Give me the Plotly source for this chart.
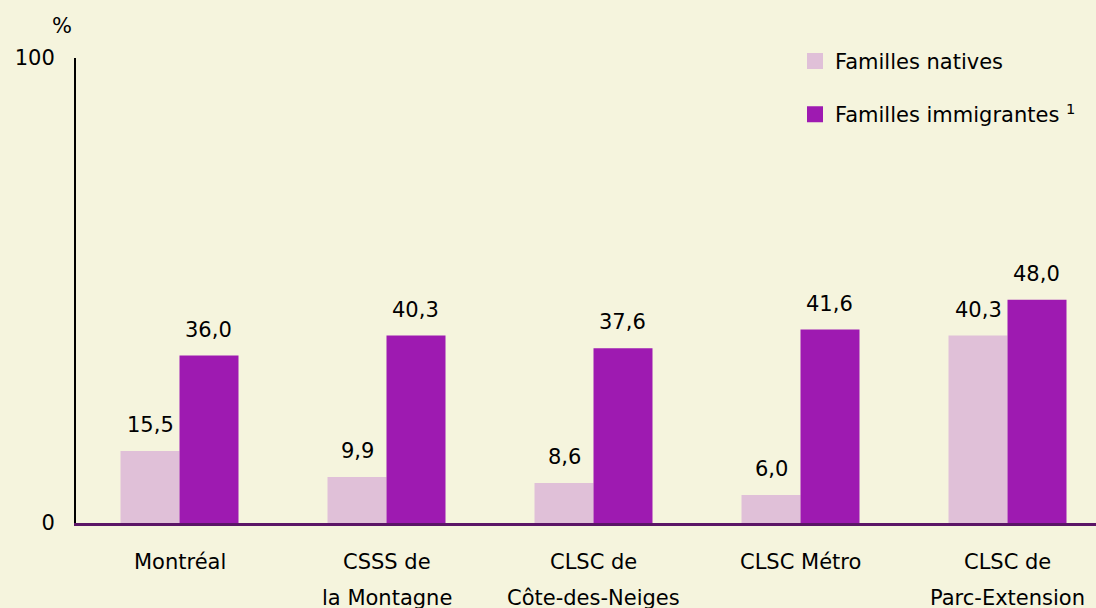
import plotly.graph_objects as go

categories = ["Montréal", "CSSS de la Montagne", "CLSC de Côte-des-Neiges", "CLSC Métro", "CLSC de Parc-Extension"]
label_line1 = ["Montréal", "CSSS de", "CLSC de", "CLSC Métro", "CLSC de"]
label_line2 = ["", "la Montagne", "Côte-des-Neiges", "", "Parc-Extension"]
natives = [15.5, 9.9, 8.6, 6.0, 40.3]
immigrantes = [36.0, 40.3, 37.6, 41.6, 48.0]
series_names = ["Familles natives", "Familles immigrantes <sup>1</sup>"]
y_ticks = [0, 100]

BG = "#F5F4DD"
C_NAT = "#E0C0D8"
C_IMM = "#9E1AB1"
FONT = "DejaVu Sans"
FS = 21

W, H = 1096, 608
ML, MR, MT, MB = 76, 0, 58, 85
BARGAP = 0.43
XRANGE = [-0.5, -0.5 + (W - ML - MR) / 207]
cat_px = (W - ML - MR) / (XRANGE[1] - XRANGE[0])
bar_px = cat_px * (1 - BARGAP) / 2

fig = go.Figure()
for vals, col in [(natives, C_NAT), (immigrantes, C_IMM)]:
    fig.add_trace(go.Bar(
        x=categories, y=vals, marker=dict(color=col, line=dict(width=0)),
        showlegend=False, hoverinfo="skip",
    ))

# legend entries
for col, name, grp in [(C_NAT, series_names[0], "a"), (C_IMM, series_names[1], "b")]:
    fig.add_trace(go.Scatter(
        x=[None], y=[None], mode="markers", name=name, legendgroup=grp,
        marker=dict(symbol="square", size=16, color=col),
    ))

annotations = []
# value labels above each bar
for j, vals in enumerate([natives, immigrantes]):
    for cat, v in zip(categories, vals):
        annotations.append(dict(
            x=cat, y=v, xref="x", yref="y", text=f"{v:.1f}".replace(".", ","), showarrow=False,
            xanchor="center", yanchor="middle", xshift=(j - 0.5) * bar_px, yshift=26,
            font=dict(family=FONT, size=FS, color="black")))
# category labels
for cat, l1, l2 in zip(categories, label_line1, label_line2):
    annotations.append(dict(x=cat, y=0, xref="x", yref="paper", text=l1, showarrow=False,
                            yanchor="middle", yshift=-39, font=dict(family=FONT, size=FS, color="black")))
    if l2:
        annotations.append(dict(x=cat, y=0, xref="x", yref="paper", text=l2, showarrow=False,
                                yanchor="middle", yshift=-75, font=dict(family=FONT, size=FS, color="black")))
annotations.append(dict(x=0, y=1, xref="paper", yref="paper", text="%", showarrow=False,
                        xanchor="right", yanchor="bottom", xshift=-2, yshift=18,
                        font=dict(family=FONT, size=FS, color="black")))

fig.update_layout(
    width=W, height=H,
    margin=dict(l=ML, r=MR, t=MT, b=MB),
    paper_bgcolor=BG, plot_bgcolor=BG,
    separators=", ",
    barmode="group", bargap=BARGAP, bargroupgap=0,
    font=dict(family=FONT, size=FS, color="black"),
    xaxis=dict(type="category", range=XRANGE, showticklabels=False,
               showline=True, linecolor="#5B1566", linewidth=3, showgrid=False, zeroline=False,
               ticks=""),
    yaxis=dict(range=[0, 100], tickvals=y_ticks, showline=True, linecolor="black", linewidth=2,
               showgrid=False, zeroline=False, ticks="", ticklabelstandoff=15,
               tickfont=dict(family=FONT, size=FS, color="black")),
    legend=dict(x=(795 - 76) / 1020, y=1.037, xanchor="left", yanchor="top",
                bgcolor="rgba(0,0,0,0)", tracegroupgap=23, traceorder="grouped",
                font=dict(family=FONT, size=FS, color="black")),
    annotations=annotations,
)

fig.write_html(
    "out.html",
    config={"displayModeBar": False},
    post_script="document.body.style.margin='0';document.body.style.overflow='hidden';"
                "document.body.style.background='" + BG + "';",
)
